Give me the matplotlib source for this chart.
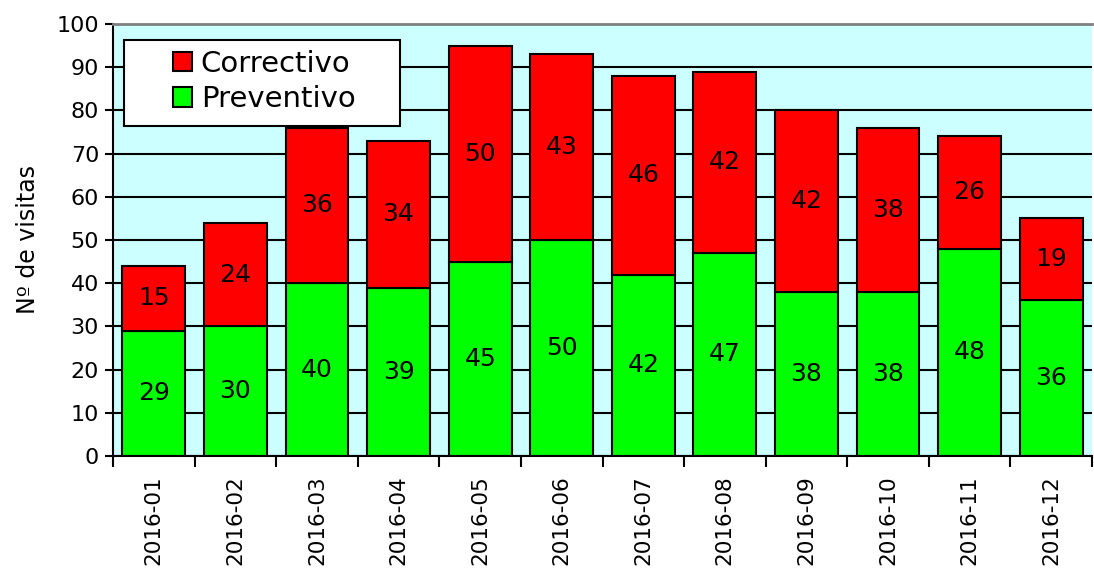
import numpy as np
import matplotlib
matplotlib.use("Agg")
import matplotlib.pyplot as plt
from matplotlib.patches import Patch, Rectangle

months = ["2016-01", "2016-02", "2016-03", "2016-04", "2016-05", "2016-06",
          "2016-07", "2016-08", "2016-09", "2016-10", "2016-11", "2016-12"]
preventivo = [29, 30, 40, 39, 45, 50, 42, 47, 38, 38, 48, 36]
correctivo = [15, 24, 36, 34, 50, 43, 46, 42, 42, 38, 26, 19]

plt.rcParams['font.family'] = ['DejaVu Sans']

W, H = 1094, 571
fig = plt.figure(figsize=(W / 100, H / 100), dpi=100)
ax = fig.add_axes([113 / W, (H - 456) / H, (1092 - 113) / W, (456 - 24) / H])
ax.set_facecolor('#CCFFFF')

x = np.arange(len(months))
ax.set_axisbelow(True)
ax.yaxis.grid(True, color='black', linewidth=1.5)

ax.bar(x, preventivo, width=0.77, color='#00FF00', edgecolor='black', linewidth=1.5)
ax.bar(x, correctivo, width=0.77, bottom=preventivo, color='#FF0000', edgecolor='black', linewidth=1.5)

for i in range(len(months)):
    ax.text(x[i], preventivo[i] / 2, str(preventivo[i]), ha='center', va='center', fontsize=18)
    ax.text(x[i], preventivo[i] + correctivo[i] / 2, str(correctivo[i]), ha='center', va='center', fontsize=18)

ax.set_xlim(-0.5, len(months) - 0.5)
ax.set_ylim(0, 100)
ax.set_yticks(range(0, 101, 10))
ax.tick_params(axis='y', labelsize=16, length=6, width=1.5, direction='out', pad=4)

ax.set_xticks(x)
ax.set_xticklabels(months, rotation=90, fontsize=15.5)
ax.set_xticks(np.arange(-0.5, len(months), 1), minor=True)
ax.tick_params(axis='x', which='major', length=0, pad=14)
ax.tick_params(axis='x', which='minor', length=8, width=1.5, direction='out')

ax.set_ylabel("Nº de visitas", fontsize=17, labelpad=12)

ax.spines['right'].set_visible(False)
ax.spines['top'].set_color('#808080')
ax.spines['top'].set_linewidth(2)
ax.spines['left'].set_linewidth(1.5)
ax.spines['bottom'].set_linewidth(1.5)

# legend frame drawn separately for the wide side padding
fig.patches.append(Rectangle((124 / W, (H - 126) / H), 276 / W, 86 / H, transform=fig.transFigure,
                             facecolor='white', edgecolor='black', linewidth=1.5, zorder=5))
handles = [Patch(facecolor='#FF0000', edgecolor='black', linewidth=1.5, label='Correctivo'),
           Patch(facecolor='#00FF00', edgecolor='black', linewidth=1.5, label='Preventivo')]
leg = fig.legend(handles=handles, loc='upper left', bbox_to_anchor=(173 / W, (H - 50) / H),
                 fontsize=21, frameon=False, handlelength=0.65, handleheight=0.65,
                 handletextpad=0.3, borderpad=0, labelspacing=0.25, borderaxespad=0)
leg.set_zorder(6)

fig.savefig("out.png", dpi=100)
